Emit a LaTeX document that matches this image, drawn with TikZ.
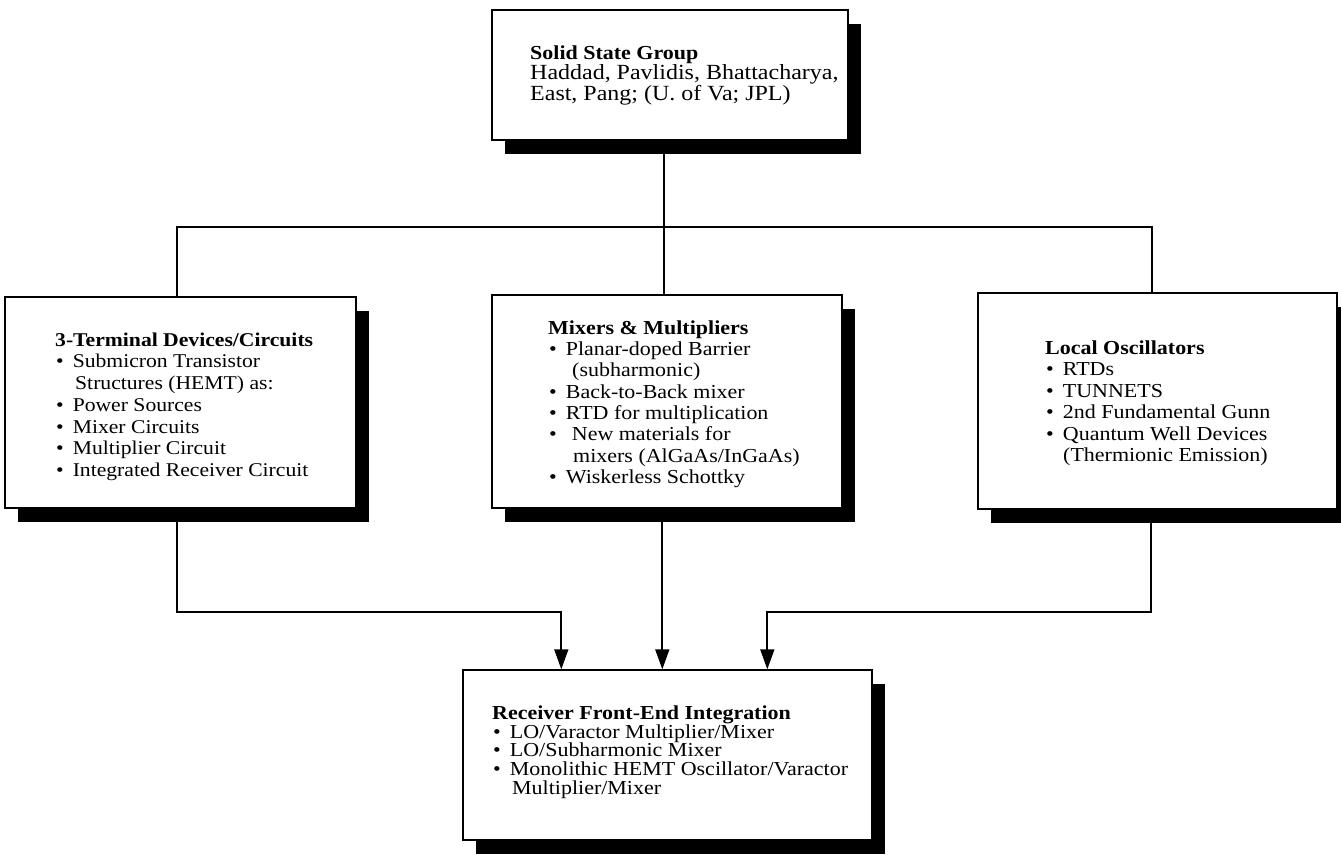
\documentclass[tikz,border=0pt]{standalone}
\usepackage{fontspec}
\setmainfont{Liberation Serif}[FakeStretch=1.11]
\usetikzlibrary{arrows.meta,shadows}
\newcommand{\myb}{\hspace*{1pt}\textbullet\hspace*{9pt}}
\newcommand{\myc}[1]{\hspace*{#1}}
\begin{document}
\begin{tikzpicture}[x=1pt,y=-1pt,
  box/.style={draw=black, line width=1.4pt, fill=white, rectangle, inner sep=0pt,
    drop shadow={shadow xshift=13pt, shadow yshift=-14pt, fill=black, opacity=1}},
  txt/.style={anchor=north west, inner sep=0pt, align=left},
  link/.style={line width=1.7pt, draw=black},
  arr/.style={link, -{Triangle[length=20pt,width=14pt]}}]
\fill[white] (0,0) rectangle (1341,854);
\useasboundingbox (0,0) rectangle (1341,854);

% boxes
\node[box, minimum width=356pt, minimum height=130pt] (top) at (670,75) {};
\node[box, minimum width=351pt, minimum height=211pt] (left) at (180.5,402.5) {};
\node[box, minimum width=350pt, minimum height=213pt] (mid) at (667,401.5) {};
\node[box, minimum width=359pt, minimum height=216pt] (right) at (1157.5,401) {};
\node[box, minimum width=409pt, minimum height=170pt] (bot) at (667.5,755) {};

% texts
\node[txt, font=\fontsize{21.6}{18.5}\selectfont] (toptxt) at (530,45)
 {\rule{0pt}{14pt}{\fontsize{19.8}{18.5}\selectfont\bfseries Solid State Group}\\
  Haddad, Pavlidis, Bhattacharya,\\
  East, Pang; (U. of Va; JPL)};
\node[txt, font=\fontsize{19.5}{21.7}\selectfont] (lefttxt) at (55,332)
 {\rule{0pt}{14pt}\textbf{3-Terminal Devices/Circuits}\\
  \myb Submicron Transistor\\
  \myc{20pt}Structures (HEMT) as:\\
  \myb Power Sources\\
  \myb Mixer Circuits\\
  \myb Multiplier Circuit\\
  \myb Integrated Receiver Circuit};
\node[txt, font=\fontsize{19.8}{21.3}\selectfont] (midtxt) at (548,320)
 {\rule{0pt}{14pt}\textbf{Mixers \& Multipliers}\\
  \myb Planar-doped Barrier\\
  \myc{24pt}(subharmonic)\\
  \myb Back-to-Back mixer\\
  \myb RTD for multiplication\\
  \myb\myc{6pt}New materials for\\
  \myc{25pt}mixers (AlGaAs/InGaAs)\\
  \myb Wiskerless Schottky};
\node[txt, font=\fontsize{19.8}{21.5}\selectfont] (righttxt) at (1045,340)
 {\rule{0pt}{14pt}\textbf{Local Oscillators}\\
  \myb RTDs\\
  \myb TUNNETS\\
  \myb 2nd Fundamental Gunn\\
  \myb Quantum Well Devices\\
  \myc{18pt}(Thermionic Emission)};
\node[txt, font=\fontsize{19.8}{18.8}\selectfont] (bottxt) at (492,705)
 {\rule{0pt}{14pt}\textbf{Receiver Front-End Integration}\\
  \myb LO/Varactor Multiplier/Mixer\\
  \myb LO/Subharmonic Mixer\\
  \myb Monolithic HEMT Oscillator/Varactor\\
  \myc{20pt}Multiplier/Mixer};

% connector anchor points
\coordinate (bus) at (665,227);
\coordinate (turn) at (0,612);
\coordinate (tS) at ([xshift=173pt]top.south west);
\coordinate (mN) at ([xshift=173pt]mid.north west);
\coordinate (lN) at ([xshift=173pt]left.north west);
\coordinate (rN) at ([xshift=175pt]right.north west);
\coordinate (lS) at ([xshift=173pt]left.south west);
\coordinate (mS) at ([xshift=171pt]mid.south west);
\coordinate (rS) at ([xshift=174pt]right.south west);
\coordinate (bL) at ([xshift=99pt]bot.north west);
\coordinate (bM) at ([xshift=200pt]bot.north west);
\coordinate (bR) at ([xshift=305pt]bot.north west);

% top tree
\draw[link] (tS) -- (mN);
\draw[link] (lN) |- (bus) -| (rN);

% arrows to the bottom box
\draw[arr] (lS) |- (bL |- turn) -- (bL);
\draw[arr] (mS) -- (bM);
\draw[arr] (rS) |- (bR |- turn) -- (bR);
\end{tikzpicture}
\end{document}
